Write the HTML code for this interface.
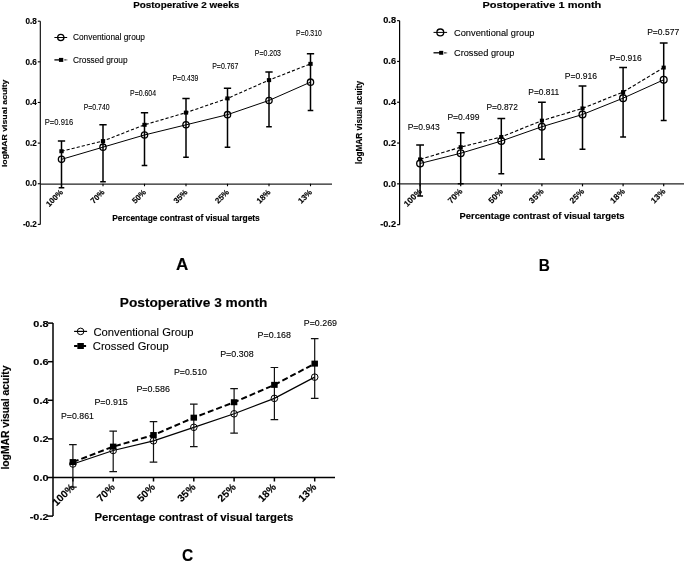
<!DOCTYPE html>
<html><head><meta charset="utf-8"><style>html,body{margin:0;padding:0;background:#fff;width:685px;height:562px;overflow:hidden}svg{display:block;filter:blur(0.35px)}text{stroke:#000;stroke-width:0.1px}text[font-weight=bold]{stroke-width:0.15px}</style></head>
<body>
<svg width="685" height="562" viewBox="0 0 685 562" font-family='"Liberation Sans", sans-serif' fill="#000">
<rect width="685" height="562" fill="#fff"/>
<g><line x1="40.3" y1="21.19" x2="40.3" y2="224.39" stroke="#000" stroke-width="1.1"/>
<line x1="40.3" y1="184.05" x2="332" y2="184.05" stroke="#222" stroke-width="1.25"/>
<line x1="37.8" y1="21.19" x2="40.3" y2="21.19" stroke="#000" stroke-width="1.1"/>
<text x="36.9" y="23.89" text-anchor="end" font-weight="bold" font-size="8.6" textLength="11.3" lengthAdjust="spacingAndGlyphs">0.8</text>
<line x1="37.8" y1="61.83" x2="40.3" y2="61.83" stroke="#000" stroke-width="1.1"/>
<text x="36.9" y="64.53" text-anchor="end" font-weight="bold" font-size="8.6" textLength="11.3" lengthAdjust="spacingAndGlyphs">0.6</text>
<line x1="37.8" y1="102.47" x2="40.3" y2="102.47" stroke="#000" stroke-width="1.1"/>
<text x="36.9" y="105.17" text-anchor="end" font-weight="bold" font-size="8.6" textLength="11.3" lengthAdjust="spacingAndGlyphs">0.4</text>
<line x1="37.8" y1="143.11" x2="40.3" y2="143.11" stroke="#000" stroke-width="1.1"/>
<text x="36.9" y="145.81" text-anchor="end" font-weight="bold" font-size="8.6" textLength="11.3" lengthAdjust="spacingAndGlyphs">0.2</text>
<line x1="37.8" y1="183.75" x2="40.3" y2="183.75" stroke="#000" stroke-width="1.1"/>
<text x="36.9" y="186.45" text-anchor="end" font-weight="bold" font-size="8.6" textLength="11.3" lengthAdjust="spacingAndGlyphs">0.0</text>
<line x1="37.8" y1="224.39" x2="40.3" y2="224.39" stroke="#000" stroke-width="1.1"/>
<text x="36.9" y="227.09" text-anchor="end" font-weight="bold" font-size="8.6" textLength="14.01" lengthAdjust="spacingAndGlyphs">-0.2</text>
<line x1="61.5" y1="183.75" x2="61.5" y2="186.25" stroke="#000" stroke-width="1.1"/>
<text transform="translate(63.6,192.75) rotate(-45)" text-anchor="end" font-weight="bold" font-size="8.0">100%</text>
<line x1="103" y1="183.75" x2="103" y2="186.25" stroke="#000" stroke-width="1.1"/>
<text transform="translate(105.1,192.75) rotate(-45)" text-anchor="end" font-weight="bold" font-size="8.0">70%</text>
<line x1="144.5" y1="183.75" x2="144.5" y2="186.25" stroke="#000" stroke-width="1.1"/>
<text transform="translate(146.6,192.75) rotate(-45)" text-anchor="end" font-weight="bold" font-size="8.0">50%</text>
<line x1="186" y1="183.75" x2="186" y2="186.25" stroke="#000" stroke-width="1.1"/>
<text transform="translate(188.1,192.75) rotate(-45)" text-anchor="end" font-weight="bold" font-size="8.0">35%</text>
<line x1="227.5" y1="183.75" x2="227.5" y2="186.25" stroke="#000" stroke-width="1.1"/>
<text transform="translate(229.6,192.75) rotate(-45)" text-anchor="end" font-weight="bold" font-size="8.0">25%</text>
<line x1="269" y1="183.75" x2="269" y2="186.25" stroke="#000" stroke-width="1.1"/>
<text transform="translate(271.1,192.75) rotate(-45)" text-anchor="end" font-weight="bold" font-size="8.0">18%</text>
<line x1="310.5" y1="183.75" x2="310.5" y2="186.25" stroke="#000" stroke-width="1.1"/>
<text transform="translate(312.6,192.75) rotate(-45)" text-anchor="end" font-weight="bold" font-size="8.0">13%</text>
<polyline fill="none" stroke="#000" stroke-width="1.0" points="61.5,159.37 103,147.17 144.5,134.98 186,124.82 227.5,114.66 269,100.44 310.5,82.15"/>
<polyline fill="none" stroke="#000" stroke-width="1.1" stroke-dasharray="3.2,2" points="61.5,151.24 103,141.08 144.5,124.82 186,112.63 227.5,98.41 269,80.12 310.5,63.86"/>
<path d="M61.5 141.08V187.81M57.85 141.08H65.15M58.7 187.81H64.3" stroke="#000" stroke-width="1.5" fill="none"/>
<path d="M103 124.82V181.72M99.35 124.82H106.65M100.2 181.72H105.8" stroke="#000" stroke-width="1.5" fill="none"/>
<path d="M144.5 112.63V165.46M140.85 112.63H148.15M141.7 165.46H147.3" stroke="#000" stroke-width="1.5" fill="none"/>
<path d="M186 98.41V157.33M182.35 98.41H189.65M183.2 157.33H188.8" stroke="#000" stroke-width="1.5" fill="none"/>
<path d="M227.5 88.25V147.17M223.85 88.25H231.15M224.7 147.17H230.3" stroke="#000" stroke-width="1.5" fill="none"/>
<path d="M269 71.99V126.85M265.35 71.99H272.65M266.2 126.85H271.8" stroke="#000" stroke-width="1.5" fill="none"/>
<path d="M310.5 53.7V110.6M306.85 53.7H314.15M307.7 110.6H313.3" stroke="#000" stroke-width="1.5" fill="none"/>
<rect x="59.35" y="149.24" width="4.3" height="4" fill="#000"/>
<rect x="100.85" y="139.08" width="4.3" height="4" fill="#000"/>
<rect x="142.35" y="122.82" width="4.3" height="4" fill="#000"/>
<rect x="183.85" y="110.63" width="4.3" height="4" fill="#000"/>
<rect x="225.35" y="96.41" width="4.3" height="4" fill="#000"/>
<rect x="266.85" y="78.12" width="4.3" height="4" fill="#000"/>
<rect x="308.35" y="61.86" width="4.3" height="4" fill="#000"/>
<circle cx="61.5" cy="159.37" r="3.15" fill="none" stroke="#000" stroke-width="1.3"/>
<circle cx="103" cy="147.17" r="3.15" fill="none" stroke="#000" stroke-width="1.3"/>
<circle cx="144.5" cy="134.98" r="3.15" fill="none" stroke="#000" stroke-width="1.3"/>
<circle cx="186" cy="124.82" r="3.15" fill="none" stroke="#000" stroke-width="1.3"/>
<circle cx="227.5" cy="114.66" r="3.15" fill="none" stroke="#000" stroke-width="1.3"/>
<circle cx="269" cy="100.44" r="3.15" fill="none" stroke="#000" stroke-width="1.3"/>
<circle cx="310.5" cy="82.15" r="3.15" fill="none" stroke="#000" stroke-width="1.3"/>
<text x="59.05" y="125.34" text-anchor="middle" font-size="9.0" textLength="28.5" lengthAdjust="spacingAndGlyphs">P=0.916</text>
<text x="96.65" y="110.14" text-anchor="middle" font-size="8.4" textLength="25.9" lengthAdjust="spacingAndGlyphs">P=0.740</text>
<text x="143.05" y="95.64" text-anchor="middle" font-size="8.4" textLength="26.1" lengthAdjust="spacingAndGlyphs">P=0.604</text>
<text x="185.45" y="80.94" text-anchor="middle" font-size="8.4" textLength="25.9" lengthAdjust="spacingAndGlyphs">P=0.439</text>
<text x="225.3" y="68.54" text-anchor="middle" font-size="8.4" textLength="26.2" lengthAdjust="spacingAndGlyphs">P=0.767</text>
<text x="267.9" y="55.94" text-anchor="middle" font-size="8.4" textLength="26.2" lengthAdjust="spacingAndGlyphs">P=0.203</text>
<text x="308.95" y="35.64" text-anchor="middle" font-size="8.4" textLength="25.7" lengthAdjust="spacingAndGlyphs">P=0.310</text>
<line x1="54.4" y1="37.5" x2="67.2" y2="37.5" stroke="#000" stroke-width="1.0"/>
<circle cx="60.8" cy="37.5" r="3.15" fill="none" stroke="#000" stroke-width="1.3"/>
<line x1="54.4" y1="59.9" x2="61.1" y2="59.9" stroke="#000" stroke-width="1.3"/>
<line x1="64.45" y1="59.9" x2="67.2" y2="59.9" stroke="#000" stroke-width="1.3" stroke-dasharray="1.3,0.8"/>
<rect x="58.95" y="57.9" width="4.3" height="4" fill="#000"/>
<text x="73" y="40.3" font-size="8.7" textLength="72" lengthAdjust="spacingAndGlyphs">Conventional group</text>
<text x="73" y="62.7" font-size="8.7" textLength="54.5" lengthAdjust="spacingAndGlyphs">Crossed group</text>
<text x="186.2" y="8" text-anchor="middle" font-weight="bold" font-size="8.9" textLength="106" lengthAdjust="spacingAndGlyphs">Postoperative 2 weeks</text>
<text x="186" y="220.8" text-anchor="middle" font-weight="bold" font-size="8.4" textLength="147.6" lengthAdjust="spacingAndGlyphs">Percentage contrast of visual targets</text>
<text transform="translate(6.8,123.3) rotate(-90)" text-anchor="middle" font-weight="bold" font-size="8.0" textLength="87.5" lengthAdjust="spacingAndGlyphs">logMAR visual acuity</text>
<text x="182.2" y="269.9" text-anchor="middle" font-weight="bold" font-size="17">A</text></g>
<g><line x1="399.6" y1="20.65" x2="399.6" y2="224.65" stroke="#000" stroke-width="1.2"/>
<line x1="399.6" y1="183.85" x2="684" y2="183.85" stroke="#222" stroke-width="1.2"/>
<line x1="397.1" y1="20.65" x2="399.6" y2="20.65" stroke="#000" stroke-width="1.2"/>
<text x="396" y="23.45" text-anchor="end" font-weight="bold" font-size="8.5" textLength="12.76" lengthAdjust="spacingAndGlyphs">0.8</text>
<line x1="397.1" y1="61.45" x2="399.6" y2="61.45" stroke="#000" stroke-width="1.2"/>
<text x="396" y="64.25" text-anchor="end" font-weight="bold" font-size="8.5" textLength="12.76" lengthAdjust="spacingAndGlyphs">0.6</text>
<line x1="397.1" y1="102.25" x2="399.6" y2="102.25" stroke="#000" stroke-width="1.2"/>
<text x="396" y="105.05" text-anchor="end" font-weight="bold" font-size="8.5" textLength="12.76" lengthAdjust="spacingAndGlyphs">0.4</text>
<line x1="397.1" y1="143.05" x2="399.6" y2="143.05" stroke="#000" stroke-width="1.2"/>
<text x="396" y="145.85" text-anchor="end" font-weight="bold" font-size="8.5" textLength="12.76" lengthAdjust="spacingAndGlyphs">0.2</text>
<line x1="397.1" y1="183.85" x2="399.6" y2="183.85" stroke="#000" stroke-width="1.2"/>
<text x="396" y="186.65" text-anchor="end" font-weight="bold" font-size="8.5" textLength="12.76" lengthAdjust="spacingAndGlyphs">0.0</text>
<line x1="397.1" y1="224.65" x2="399.6" y2="224.65" stroke="#000" stroke-width="1.2"/>
<text x="396" y="227.45" text-anchor="end" font-weight="bold" font-size="8.5" textLength="15.82" lengthAdjust="spacingAndGlyphs">-0.2</text>
<line x1="420.1" y1="183.85" x2="420.1" y2="186.35" stroke="#000" stroke-width="1.2"/>
<text transform="translate(422.4,192.05) rotate(-45)" text-anchor="end" font-weight="bold" font-size="8.4">100%</text>
<line x1="460.7" y1="183.85" x2="460.7" y2="186.35" stroke="#000" stroke-width="1.2"/>
<text transform="translate(463,192.05) rotate(-45)" text-anchor="end" font-weight="bold" font-size="8.4">70%</text>
<line x1="501.3" y1="183.85" x2="501.3" y2="186.35" stroke="#000" stroke-width="1.2"/>
<text transform="translate(503.6,192.05) rotate(-45)" text-anchor="end" font-weight="bold" font-size="8.4">50%</text>
<line x1="541.9" y1="183.85" x2="541.9" y2="186.35" stroke="#000" stroke-width="1.2"/>
<text transform="translate(544.2,192.05) rotate(-45)" text-anchor="end" font-weight="bold" font-size="8.4">35%</text>
<line x1="582.5" y1="183.85" x2="582.5" y2="186.35" stroke="#000" stroke-width="1.2"/>
<text transform="translate(584.8,192.05) rotate(-45)" text-anchor="end" font-weight="bold" font-size="8.4">25%</text>
<line x1="623.1" y1="183.85" x2="623.1" y2="186.35" stroke="#000" stroke-width="1.2"/>
<text transform="translate(625.4,192.05) rotate(-45)" text-anchor="end" font-weight="bold" font-size="8.4">18%</text>
<line x1="663.7" y1="183.85" x2="663.7" y2="186.35" stroke="#000" stroke-width="1.2"/>
<text transform="translate(666,192.05) rotate(-45)" text-anchor="end" font-weight="bold" font-size="8.4">13%</text>
<polyline fill="none" stroke="#000" stroke-width="1.0" points="420.1,163.45 460.7,153.25 501.3,141.01 541.9,126.73 582.5,114.49 623.1,98.17 663.7,79.81"/>
<polyline fill="none" stroke="#000" stroke-width="1.15" stroke-dasharray="3.5,2" points="420.1,159.37 460.7,147.13 501.3,136.93 541.9,120.61 582.5,108.37 623.1,92.05 663.7,67.57"/>
<path d="M420.1 145.09V196.09M416.2 145.09H424M417.15 196.09H423.05" stroke="#000" stroke-width="1.5" fill="none"/>
<path d="M460.7 132.85V183.85M456.8 132.85H464.6M457.75 183.85H463.65" stroke="#000" stroke-width="1.5" fill="none"/>
<path d="M501.3 118.57V173.65M497.4 118.57H505.2M498.35 173.65H504.25" stroke="#000" stroke-width="1.5" fill="none"/>
<path d="M541.9 102.25V159.37M538 102.25H545.8M538.95 159.37H544.85" stroke="#000" stroke-width="1.5" fill="none"/>
<path d="M582.5 85.93V149.17M578.6 85.93H586.4M579.55 149.17H585.45" stroke="#000" stroke-width="1.5" fill="none"/>
<path d="M623.1 67.57V136.93M619.2 67.57H627M620.15 136.93H626.05" stroke="#000" stroke-width="1.5" fill="none"/>
<path d="M663.7 43.09V120.61M659.8 43.09H667.6M660.75 120.61H666.65" stroke="#000" stroke-width="1.5" fill="none"/>
<rect x="418.05" y="157.42" width="4.1" height="3.9" fill="#000"/>
<rect x="458.65" y="145.18" width="4.1" height="3.9" fill="#000"/>
<rect x="499.25" y="134.98" width="4.1" height="3.9" fill="#000"/>
<rect x="539.85" y="118.66" width="4.1" height="3.9" fill="#000"/>
<rect x="580.45" y="106.42" width="4.1" height="3.9" fill="#000"/>
<rect x="621.05" y="90.1" width="4.1" height="3.9" fill="#000"/>
<rect x="661.65" y="65.62" width="4.1" height="3.9" fill="#000"/>
<circle cx="420.1" cy="163.45" r="3.4" fill="none" stroke="#000" stroke-width="1.35"/>
<circle cx="460.7" cy="153.25" r="3.4" fill="none" stroke="#000" stroke-width="1.35"/>
<circle cx="501.3" cy="141.01" r="3.4" fill="none" stroke="#000" stroke-width="1.35"/>
<circle cx="541.9" cy="126.73" r="3.4" fill="none" stroke="#000" stroke-width="1.35"/>
<circle cx="582.5" cy="114.49" r="3.4" fill="none" stroke="#000" stroke-width="1.35"/>
<circle cx="623.1" cy="98.17" r="3.4" fill="none" stroke="#000" stroke-width="1.35"/>
<circle cx="663.7" cy="79.81" r="3.4" fill="none" stroke="#000" stroke-width="1.35"/>
<text x="423.7" y="130" text-anchor="middle" font-size="8.5" textLength="32" lengthAdjust="spacingAndGlyphs">P=0.943</text>
<text x="463.4" y="119.5" text-anchor="middle" font-size="8.5" textLength="32" lengthAdjust="spacingAndGlyphs">P=0.499</text>
<text x="502.2" y="110.4" text-anchor="middle" font-size="8.5" textLength="31.6" lengthAdjust="spacingAndGlyphs">P=0.872</text>
<text x="543.8" y="95.4" text-anchor="middle" font-size="8.5" textLength="31" lengthAdjust="spacingAndGlyphs">P=0.811</text>
<text x="580.9" y="78.7" text-anchor="middle" font-size="8.5" textLength="32.3" lengthAdjust="spacingAndGlyphs">P=0.916</text>
<text x="625.8" y="60.6" text-anchor="middle" font-size="8.5" textLength="32" lengthAdjust="spacingAndGlyphs">P=0.916</text>
<text x="663.2" y="35.3" text-anchor="middle" font-size="8.5" textLength="32" lengthAdjust="spacingAndGlyphs">P=0.577</text>
<line x1="433.5" y1="32.4" x2="447.1" y2="32.4" stroke="#000" stroke-width="1.0"/>
<circle cx="440.3" cy="32.4" r="3.4" fill="none" stroke="#000" stroke-width="1.35"/>
<line x1="433.5" y1="52.8" x2="441.2" y2="52.8" stroke="#000" stroke-width="1.3"/>
<line x1="444.25" y1="52.8" x2="447.1" y2="52.8" stroke="#000" stroke-width="1.3" stroke-dasharray="1.5,0.8"/>
<rect x="439.15" y="50.85" width="4.1" height="3.9" fill="#000"/>
<text x="454" y="35.7" font-size="9.4" textLength="80.5" lengthAdjust="spacingAndGlyphs">Conventional group</text>
<text x="454" y="56.1" font-size="9.4" textLength="60.5" lengthAdjust="spacingAndGlyphs">Crossed group</text>
<text x="541.9" y="8" text-anchor="middle" font-weight="bold" font-size="9.3" textLength="118.8" lengthAdjust="spacingAndGlyphs">Postoperative 1 month</text>
<text x="542" y="219.3" text-anchor="middle" font-weight="bold" font-size="8.8" textLength="165" lengthAdjust="spacingAndGlyphs">Percentage contrast of visual targets</text>
<text transform="translate(361.9,122.4) rotate(-90)" text-anchor="middle" font-weight="bold" font-size="8.3" textLength="83" lengthAdjust="spacingAndGlyphs">logMAR visual acuity</text>
<text x="544.2" y="270.5" text-anchor="middle" font-weight="bold" font-size="17" textLength="11.1" lengthAdjust="spacingAndGlyphs">B</text></g>
<g><line x1="53" y1="323.1" x2="53" y2="516.1" stroke="#000" stroke-width="1.5"/>
<line x1="53" y1="477.5" x2="335" y2="477.5" stroke="#000" stroke-width="1.5"/>
<line x1="48" y1="323.1" x2="53" y2="323.1" stroke="#000" stroke-width="1.5"/>
<text x="48.5" y="326.5" text-anchor="end" font-weight="bold" font-size="9.8" textLength="15.12" lengthAdjust="spacingAndGlyphs">0.8</text>
<line x1="48" y1="361.7" x2="53" y2="361.7" stroke="#000" stroke-width="1.5"/>
<text x="48.5" y="365.1" text-anchor="end" font-weight="bold" font-size="9.8" textLength="15.12" lengthAdjust="spacingAndGlyphs">0.6</text>
<line x1="48" y1="400.3" x2="53" y2="400.3" stroke="#000" stroke-width="1.5"/>
<text x="48.5" y="403.7" text-anchor="end" font-weight="bold" font-size="9.8" textLength="15.12" lengthAdjust="spacingAndGlyphs">0.4</text>
<line x1="48" y1="438.9" x2="53" y2="438.9" stroke="#000" stroke-width="1.5"/>
<text x="48.5" y="442.3" text-anchor="end" font-weight="bold" font-size="9.8" textLength="15.12" lengthAdjust="spacingAndGlyphs">0.2</text>
<line x1="48" y1="477.5" x2="53" y2="477.5" stroke="#000" stroke-width="1.5"/>
<text x="48.5" y="480.9" text-anchor="end" font-weight="bold" font-size="9.8" textLength="15.12" lengthAdjust="spacingAndGlyphs">0.0</text>
<line x1="48" y1="516.1" x2="53" y2="516.1" stroke="#000" stroke-width="1.5"/>
<text x="48.5" y="519.5" text-anchor="end" font-weight="bold" font-size="9.8" textLength="18.75" lengthAdjust="spacingAndGlyphs">-0.2</text>
<line x1="72.9" y1="477.5" x2="72.9" y2="481.5" stroke="#000" stroke-width="1.5"/>
<text transform="translate(75.2,487.9) rotate(-45)" text-anchor="end" font-weight="bold" font-size="10.3">100%</text>
<line x1="113.2" y1="477.5" x2="113.2" y2="481.5" stroke="#000" stroke-width="1.5"/>
<text transform="translate(115.5,487.9) rotate(-45)" text-anchor="end" font-weight="bold" font-size="10.3">70%</text>
<line x1="153.5" y1="477.5" x2="153.5" y2="481.5" stroke="#000" stroke-width="1.5"/>
<text transform="translate(155.8,487.9) rotate(-45)" text-anchor="end" font-weight="bold" font-size="10.3">50%</text>
<line x1="193.8" y1="477.5" x2="193.8" y2="481.5" stroke="#000" stroke-width="1.5"/>
<text transform="translate(196.1,487.9) rotate(-45)" text-anchor="end" font-weight="bold" font-size="10.3">35%</text>
<line x1="234.1" y1="477.5" x2="234.1" y2="481.5" stroke="#000" stroke-width="1.5"/>
<text transform="translate(236.4,487.9) rotate(-45)" text-anchor="end" font-weight="bold" font-size="10.3">25%</text>
<line x1="274.4" y1="477.5" x2="274.4" y2="481.5" stroke="#000" stroke-width="1.5"/>
<text transform="translate(276.7,487.9) rotate(-45)" text-anchor="end" font-weight="bold" font-size="10.3">18%</text>
<line x1="314.7" y1="477.5" x2="314.7" y2="481.5" stroke="#000" stroke-width="1.5"/>
<text transform="translate(317,487.9) rotate(-45)" text-anchor="end" font-weight="bold" font-size="10.3">13%</text>
<polyline fill="none" stroke="#000" stroke-width="1.2" points="72.9,463.99 113.2,450.48 153.5,440.83 193.8,427.32 234.1,413.81 274.4,398.37 314.7,377.14"/>
<polyline fill="none" stroke="#000" stroke-width="2.0" stroke-dasharray="6,3" points="72.9,462.06 113.2,446.62 153.5,435.04 193.8,417.67 234.1,402.23 274.4,384.86 314.7,363.63"/>
<path d="M72.9 444.69V487.15M69.1 444.69H76.7M69.1 487.15H76.7" stroke="#111" stroke-width="1.2" fill="none"/>
<path d="M113.2 431.18V471.71M109.4 431.18H117M109.4 471.71H117" stroke="#111" stroke-width="1.2" fill="none"/>
<path d="M153.5 421.53V462.06M149.7 421.53H157.3M149.7 462.06H157.3" stroke="#111" stroke-width="1.2" fill="none"/>
<path d="M193.8 404.16V446.62M190 404.16H197.6M190 446.62H197.6" stroke="#111" stroke-width="1.2" fill="none"/>
<path d="M234.1 388.72V433.11M230.3 388.72H237.9M230.3 433.11H237.9" stroke="#111" stroke-width="1.2" fill="none"/>
<path d="M274.4 367.49V419.6M270.6 367.49H278.2M270.6 419.6H278.2" stroke="#111" stroke-width="1.2" fill="none"/>
<path d="M314.7 338.54V398.37M310.9 338.54H318.5M310.9 398.37H318.5" stroke="#111" stroke-width="1.2" fill="none"/>
<rect x="69.65" y="459.06" width="6.5" height="6" fill="#000"/>
<rect x="109.95" y="443.62" width="6.5" height="6" fill="#000"/>
<rect x="150.25" y="432.04" width="6.5" height="6" fill="#000"/>
<rect x="190.55" y="414.67" width="6.5" height="6" fill="#000"/>
<rect x="230.85" y="399.23" width="6.5" height="6" fill="#000"/>
<rect x="271.15" y="381.86" width="6.5" height="6" fill="#000"/>
<rect x="311.45" y="360.63" width="6.5" height="6" fill="#000"/>
<circle cx="72.9" cy="463.99" r="3.3" fill="none" stroke="#000" stroke-width="1.0"/>
<circle cx="113.2" cy="450.48" r="3.3" fill="none" stroke="#000" stroke-width="1.0"/>
<circle cx="153.5" cy="440.83" r="3.3" fill="none" stroke="#000" stroke-width="1.0"/>
<circle cx="193.8" cy="427.32" r="3.3" fill="none" stroke="#000" stroke-width="1.0"/>
<circle cx="234.1" cy="413.81" r="3.3" fill="none" stroke="#000" stroke-width="1.0"/>
<circle cx="274.4" cy="398.37" r="3.3" fill="none" stroke="#000" stroke-width="1.0"/>
<circle cx="314.7" cy="377.14" r="3.3" fill="none" stroke="#000" stroke-width="1.0"/>
<text x="77.45" y="419.2" text-anchor="middle" font-size="8.6" textLength="32.9" lengthAdjust="spacingAndGlyphs">P=0.861</text>
<text x="111.1" y="404.7" text-anchor="middle" font-size="8.6" textLength="33.4" lengthAdjust="spacingAndGlyphs">P=0.915</text>
<text x="153.15" y="391.9" text-anchor="middle" font-size="8.6" textLength="33.5" lengthAdjust="spacingAndGlyphs">P=0.586</text>
<text x="190.45" y="375" text-anchor="middle" font-size="8.6" textLength="33.1" lengthAdjust="spacingAndGlyphs">P=0.510</text>
<text x="236.9" y="357.3" text-anchor="middle" font-size="8.6" textLength="33.4" lengthAdjust="spacingAndGlyphs">P=0.308</text>
<text x="274.3" y="338.2" text-anchor="middle" font-size="8.6" textLength="33.4" lengthAdjust="spacingAndGlyphs">P=0.168</text>
<text x="320.4" y="326.3" text-anchor="middle" font-size="8.6" textLength="33.2" lengthAdjust="spacingAndGlyphs">P=0.269</text>
<line x1="74.1" y1="331.4" x2="87.1" y2="331.4" stroke="#000" stroke-width="1.2"/>
<circle cx="80.6" cy="331.4" r="3.3" fill="none" stroke="#000" stroke-width="1.0"/>
<line x1="74.1" y1="346" x2="87.1" y2="346" stroke="#000" stroke-width="2.0" stroke-dasharray="3.5,5"/>
<rect x="77.35" y="343" width="6.5" height="6" fill="#000"/>
<text x="93.4" y="335.7" font-size="11" textLength="100" lengthAdjust="spacingAndGlyphs">Conventional Group</text>
<text x="92.8" y="349.9" font-size="11" textLength="76" lengthAdjust="spacingAndGlyphs">Crossed Group</text>
<text x="193.6" y="306.9" text-anchor="middle" font-weight="bold" font-size="13.2" textLength="147.6" lengthAdjust="spacingAndGlyphs">Postoperative 3 month</text>
<text x="193.9" y="521" text-anchor="middle" font-weight="bold" font-size="11.2" textLength="199" lengthAdjust="spacingAndGlyphs">Percentage contrast of visual targets</text>
<text transform="translate(9.2,417.6) rotate(-90)" text-anchor="middle" font-weight="bold" font-size="10.2" textLength="104" lengthAdjust="spacingAndGlyphs">logMAR visual acuity</text>
<text x="187.7" y="560.6" text-anchor="middle" font-weight="bold" font-size="17" textLength="11.2" lengthAdjust="spacingAndGlyphs">C</text></g>
</svg>
</body></html>
